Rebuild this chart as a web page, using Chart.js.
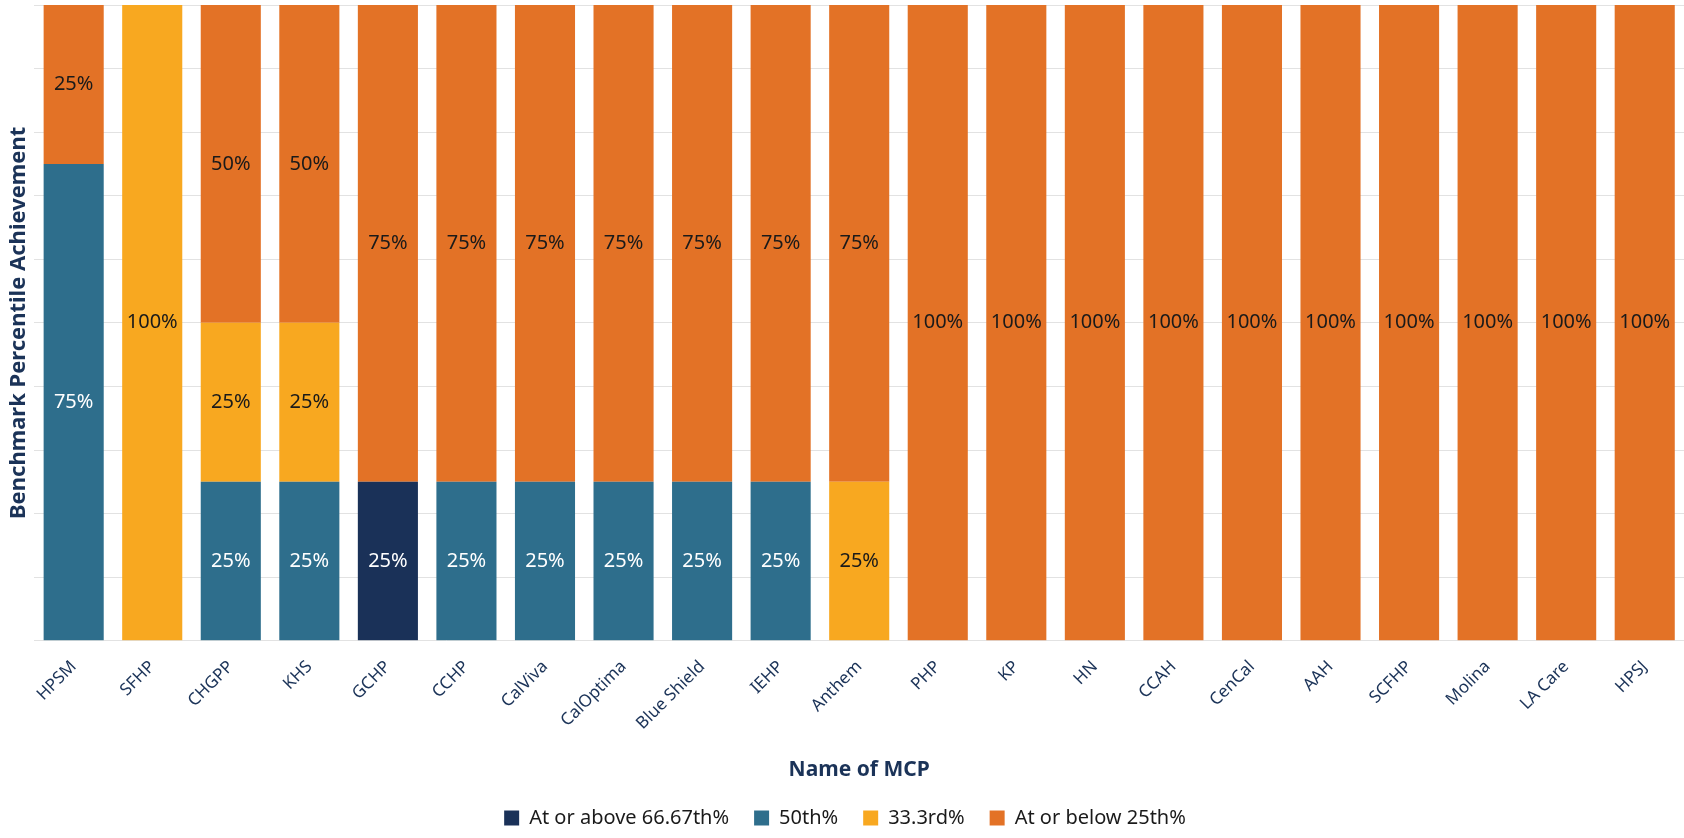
<!DOCTYPE html>
<html>
<head>
<meta charset="utf-8">
<script src="https://cdn.jsdelivr.net/npm/chart.js@4"></script>
<style>
  html, body { margin: 0; padding: 0; background: #fff; }
  #wrap { width: 1684px; height: 838px; }
</style>
</head>
<body>
<div id="wrap"><canvas id="myChart"></canvas></div>
<script>
var plans = ["HPSM", "SFHP", "CHGPP", "KHS", "GCHP", "CCHP", "CalViva", "CalOptima",
  "Blue Shield", "IEHP", "Anthem", "PHP", "KP", "HN", "CCAH", "CenCal", "AAH",
  "SCFHP", "Molina", "LA Care", "HPSJ"];
var aboveP67 = [0, 0, 0, 0, 25, 0, 0, 0, 0, 0, 0, 0, 0, 0, 0, 0, 0, 0, 0, 0, 0];
var p50 = [75, 0, 25, 25, 0, 25, 25, 25, 25, 25, 0, 0, 0, 0, 0, 0, 0, 0, 0, 0, 0];
var p33 = [0, 100, 25, 25, 0, 0, 0, 0, 0, 0, 25, 0, 0, 0, 0, 0, 0, 0, 0, 0, 0];
var belowP25 = [25, 0, 50, 50, 75, 75, 75, 75, 75, 75, 75, 100, 100, 100, 100, 100, 100, 100, 100, 100, 100];

var fontFamily = "'Noto Sans', 'Open Sans', sans-serif";
var navyText = "#1b3358";

// draws the percent inside each bar segment
var barLabels = {
  id: "barLabels",
  afterDatasetsDraw: function (chart) {
    var c = chart.ctx;
    c.save();
    c.font = "20px " + fontFamily;
    c.textAlign = "center";
    c.textBaseline = "middle";
    chart.data.datasets.forEach(function (ds, i) {
      var meta = chart.getDatasetMeta(i);
      meta.data.forEach(function (bar, j) {
        var v = ds.data[j];
        if (!v) return;
        var mid = (bar.y + bar.base) / 2;
        c.fillStyle = ds.labelColor;
        c.fillText(v + "%", bar.x, mid);
      });
    });
    c.restore();
  }
};

var ctx = document.getElementById("myChart").getContext("2d");
var myChart = new Chart(ctx, {
  type: "bar",
  data: {
    labels: plans,
    datasets: [
      { label: "At or above 66.67th%", data: aboveP67, backgroundColor: "#1a3158", labelColor: "#ffffff" },
      { label: "50th%", data: p50, backgroundColor: "#2e6e8c", labelColor: "#ffffff" },
      { label: "33.3rd%", data: p33, backgroundColor: "#f8a820", labelColor: "#1a1a1a" },
      { label: "At or below 25th%", data: belowP25, backgroundColor: "#e37226", labelColor: "#1a1a1a" }
    ]
  },
  options: {
    responsive: true,
    maintainAspectRatio: false,
    animation: false,
    layout: { padding: { top: 5, right: 0, left: 6, bottom: 0 } },
    datasets: {
      bar: { categoryPercentage: 1, barPercentage: 0.765, borderWidth: 0 }
    },
    scales: {
      x: {
        stacked: true,
        grid: { display: false },
        border: { display: false },
        ticks: {
          color: navyText,
          font: { family: fontFamily, size: 17 },
          minRotation: 45,
          maxRotation: 45,
          padding: 8
        },
        title: {
          display: true,
          text: "Name of MCP",
          color: navyText,
          font: { family: fontFamily, size: 21, weight: "bold" },
          padding: { top: 16, bottom: 0 }
        }
      },
      y: {
        stacked: true,
        min: 0,
        max: 100,
        ticks: { display: false, stepSize: 10 },
        grid: { color: "#e2e2e2", drawTicks: false },
        border: { display: false },
        title: {
          display: true,
          text: "Benchmark Percentile Achievement",
          color: navyText,
          font: { family: fontFamily, size: 22, weight: "bold" },
          padding: { top: 0, bottom: 2 }
        }
      }
    },
    plugins: {
      legend: {
        position: "bottom",
        labels: {
          color: "#1a1a1a",
          font: { family: fontFamily, size: 20 },
          boxWidth: 15,
          boxHeight: 15,
          padding: 25
        }
      },
      tooltip: { enabled: false }
    }
  },
  plugins: [barLabels]
});
</script>
</body>
</html>
